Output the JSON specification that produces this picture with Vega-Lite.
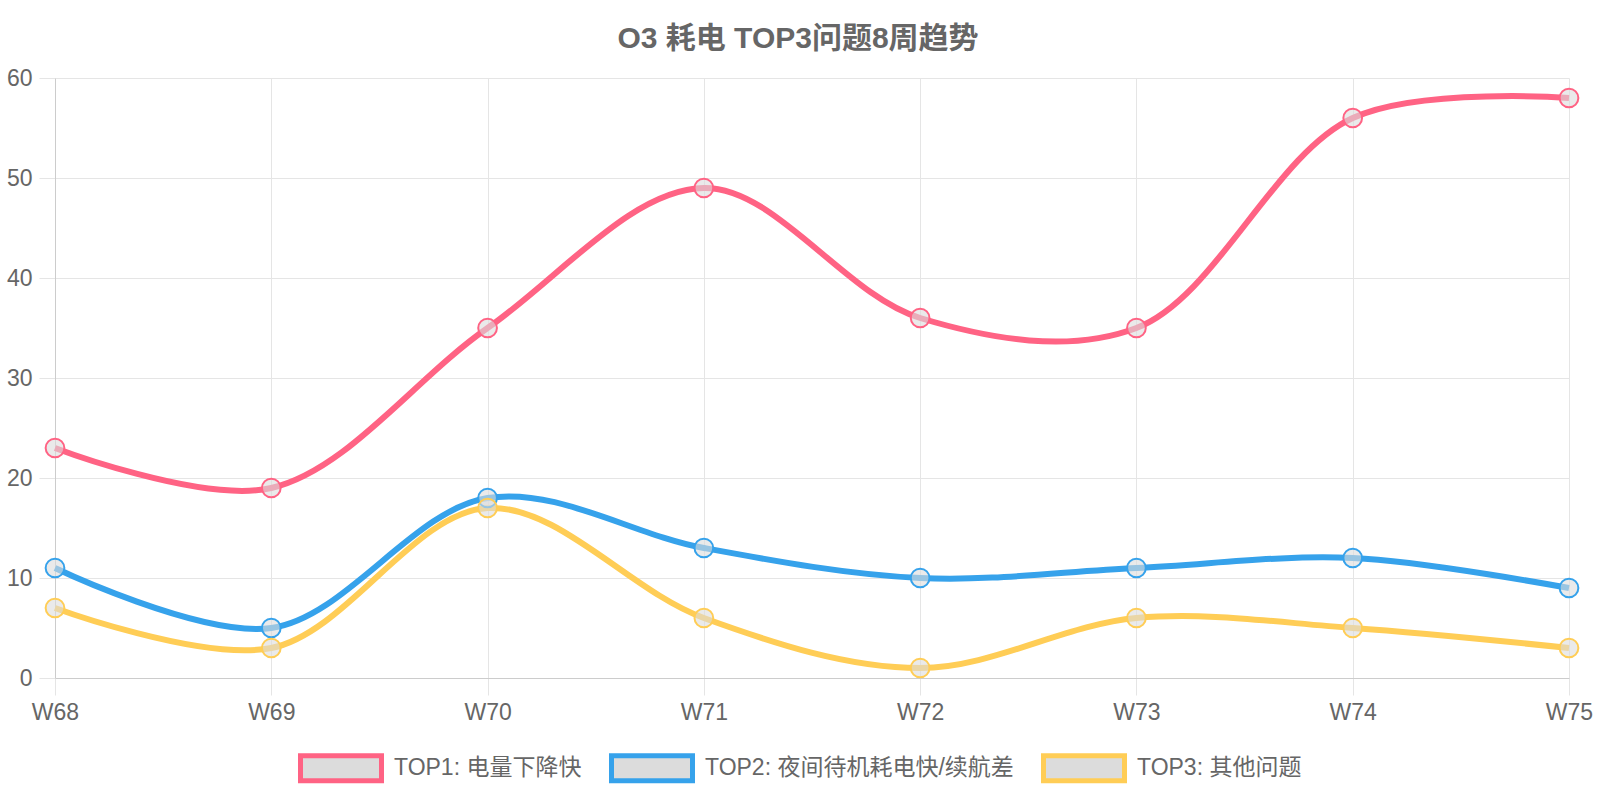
{
  "$schema": "https://vega.github.io/schema/vega-lite/v6.json",
  "width": 1514,
  "height": 600,
  "autosize": {"type": "none"},
  "padding": {"left": 55, "top": 78, "right": 31, "bottom": 122},
  "background": "#ffffff",
  "title": {
    "text": "O3 耗电 TOP3问题8周趋势",
    "font": "Liberation Sans, Noto Sans CJK SC",
    "fontSize": 30,
    "fontWeight": "bold",
    "color": "#666666",
    "anchor": "middle",
    "dx": -14,
    "offset": 13
  },
  "data": {
    "values": [
      {"week": "W68", "series": "TOP1: 电量下降快", "count": 23},
      {"week": "W69", "series": "TOP1: 电量下降快", "count": 19},
      {"week": "W70", "series": "TOP1: 电量下降快", "count": 35},
      {"week": "W71", "series": "TOP1: 电量下降快", "count": 49},
      {"week": "W72", "series": "TOP1: 电量下降快", "count": 36},
      {"week": "W73", "series": "TOP1: 电量下降快", "count": 35},
      {"week": "W74", "series": "TOP1: 电量下降快", "count": 56},
      {"week": "W75", "series": "TOP1: 电量下降快", "count": 58},
      {"week": "W68", "series": "TOP2: 夜间待机耗电快/续航差", "count": 11},
      {"week": "W69", "series": "TOP2: 夜间待机耗电快/续航差", "count": 5},
      {"week": "W70", "series": "TOP2: 夜间待机耗电快/续航差", "count": 18},
      {"week": "W71", "series": "TOP2: 夜间待机耗电快/续航差", "count": 13},
      {"week": "W72", "series": "TOP2: 夜间待机耗电快/续航差", "count": 10},
      {"week": "W73", "series": "TOP2: 夜间待机耗电快/续航差", "count": 11},
      {"week": "W74", "series": "TOP2: 夜间待机耗电快/续航差", "count": 12},
      {"week": "W75", "series": "TOP2: 夜间待机耗电快/续航差", "count": 9},
      {"week": "W68", "series": "TOP3: 其他问题", "count": 7},
      {"week": "W69", "series": "TOP3: 其他问题", "count": 3},
      {"week": "W70", "series": "TOP3: 其他问题", "count": 17},
      {"week": "W71", "series": "TOP3: 其他问题", "count": 6},
      {"week": "W72", "series": "TOP3: 其他问题", "count": 1},
      {"week": "W73", "series": "TOP3: 其他问题", "count": 6},
      {"week": "W74", "series": "TOP3: 其他问题", "count": 5},
      {"week": "W75", "series": "TOP3: 其他问题", "count": 3}
    ]
  },
  "encoding": {
    "x": {
      "field": "week",
      "type": "ordinal",
      "scale": {"type": "point", "padding": 0},
      "axis": {
        "title": null,
        "labelAngle": 0,
        "labelFont": "Liberation Sans",
        "labelFontSize": 23,
        "labelColor": "#666666",
        "labelPadding": 6,
        "tickSize": 17,
        "tickColor": "#e5e5e5",
        "gridColor": "#e5e5e5",
        "domainColor": "#cccccc",
        "grid": true
      }
    },
    "y": {
      "field": "count",
      "type": "quantitative",
      "scale": {"domain": [0, 60], "nice": false},
      "axis": {
        "title": null,
        "values": [0, 10, 20, 30, 40, 50, 60],
        "labelFont": "Liberation Sans",
        "labelFontSize": 23,
        "labelColor": "#666666",
        "labelPadding": 7,
        "tickSize": 16,
        "tickColor": "#e5e5e5",
        "gridColor": "#e5e5e5",
        "domainColor": "#cccccc",
        "grid": true
      }
    },
    "color": {
      "field": "series",
      "type": "nominal",
      "scale": {
        "domain": ["TOP1: 电量下降快", "TOP2: 夜间待机耗电快/续航差", "TOP3: 其他问题"],
        "range": ["#ff6384", "#36a2eb", "#ffcd56"]
      },
      "legend": {
        "title": null,
        "orient": "none",
        "direction": "horizontal",
        "legendX": 243,
        "legendY": 647,
        "padding": 0,
        "symbolType": "M-1,-0.3086H1V0.3086H-1Z",
        "symbolSize": 6561,
        "symbolStrokeWidth": 5,
        "symbolFillColor": "#e5e5e5",
        "symbolOpacity": 1,
        "labelFont": "Liberation Sans, Noto Sans CJK SC",
        "labelFontSize": 23,
        "labelColor": "#666666",
        "labelLimit": 0,
        "labelOffset": 10,
        "columnPadding": 19
      }
    }
  },
  "layer": [
    {
      "mark": {"type": "line", "interpolate": "catmull-rom", "strokeWidth": 6}
    },
    {
      "mark": {"type": "point", "filled": false, "shape": "circle", "size": 350, "strokeWidth": 2, "opacity": 1},
      "encoding": {
        "fill": {"value": "#dcdcdc"},
        "fillOpacity": {"value": 0.6}
      }
    }
  ],
  "config": {
    "view": {"stroke": null}
  }
}
